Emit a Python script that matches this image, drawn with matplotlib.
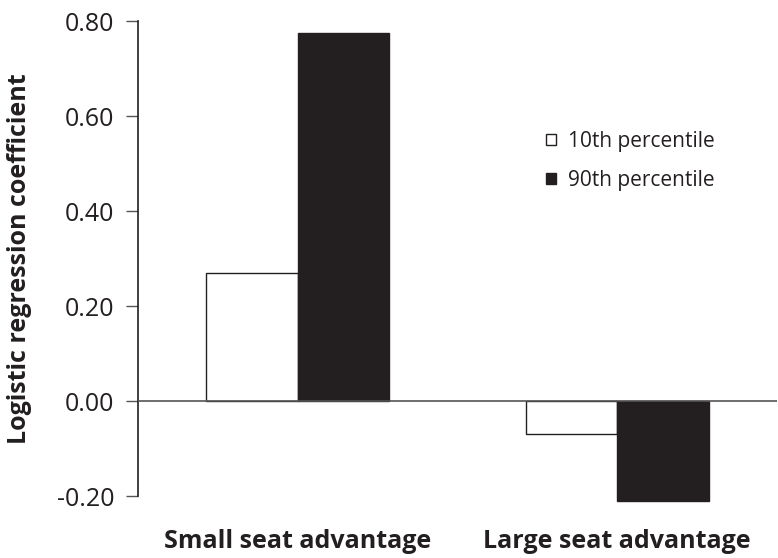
import numpy as np
import matplotlib
matplotlib.use("Agg")
import matplotlib.pyplot as plt

categories = ["Small seat advantage", "Large seat advantage"]
series_names = ["10th percentile", "90th percentile"]
p10_values = [0.27, -0.07]
p90_values = [0.775, -0.21]
y_ticks = [-0.20, 0.00, 0.20, 0.40, 0.60, 0.80]

plt.rcParams["font.family"] = ["Open Sans", "DejaVu Sans"]
ink = "#231f20"

fig = plt.figure(figsize=(7.78, 5.58), dpi=100)
ax = fig.add_axes([0.1774, 0.1111, 0.8213, 0.8507])

x = np.arange(len(categories))
w = 0.286
ax.bar(x - w / 2, p10_values, w, facecolor="white", edgecolor=ink,
       linewidth=1.0, label=series_names[0], zorder=2, clip_on=False)
ax.bar(x + w / 2, p90_values, w, facecolor=ink, edgecolor=ink,
       linewidth=1.0, label=series_names[1], zorder=2, clip_on=False)

ax.axhline(0, color="#555555", linewidth=1.2, zorder=3)

ax.set_xlim(-0.5, 1.5)
ax.set_ylim(-0.2, 0.8)
ax.set_yticks(y_ticks)
ax.set_yticklabels([f"{v:.2f}" for v in y_ticks], fontsize=18, color=ink)
ax.tick_params(axis="y", length=9, width=1, color="#555555", pad=8)
ax.set_xticks(x)
ax.set_xticklabels(categories, fontsize=18, fontweight="bold", color=ink)
ax.tick_params(axis="x", length=0, pad=24)

for side in ["top", "right", "bottom"]:
    ax.spines[side].set_visible(False)
ax.spines["left"].set_color(ink)
ax.spines["left"].set_linewidth(1.2)

ax.set_ylabel("Logistic regression coefficient", fontsize=18,
              fontweight="bold", color=ink, va="center")
ax.yaxis.set_label_coords(-0.185, 0.5)

leg = ax.legend(loc="upper left", bbox_to_anchor=(0.626, 0.786), frameon=False,
                fontsize=15, handlelength=0.45, handleheight=0.45,
                handletextpad=0.58, labelspacing=0.86, borderaxespad=0)
for t in leg.get_texts():
    t.set_color(ink)

fig.savefig("out.png", dpi=100)
